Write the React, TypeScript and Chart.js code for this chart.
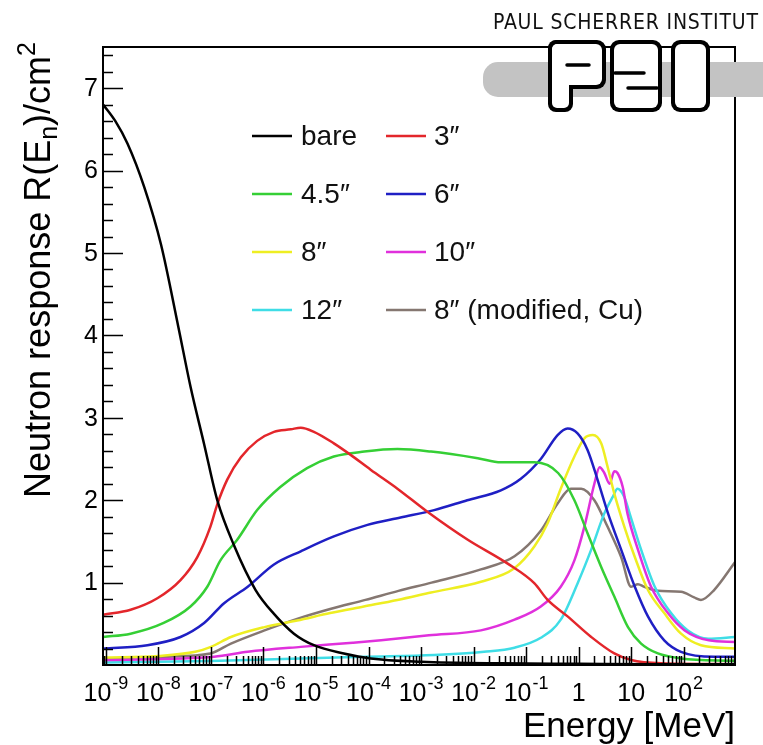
import React, { useEffect, useRef } from "react";
import { Chart, registerables } from "chart.js";

Chart.register(...registerables);

// ---------- data (x = log10(E / MeV), y = R(E_n) in cm^2) ----------
const seriesLabels = ["bare", "3″", "4.5″", "6″", "8″", "10″", "12″", "8″ (modified, Cu)"];
const seriesColors = ["#000000", "#e3262b", "#35cf35", "#1f1fc4", "#eeee22", "#e030dc", "#3fdde6", "#857771"];

const bareLogE = [-9.05, -8.82, -8.59, -8.27, -7.95, -7.62, -7.39, -7.13, -6.88, -6.56, -6.15, -5.80, -5.42, -5.04, -4.47, -3.96, -3.0, -1.5, 0.0, 1.5, 2.98];
const bareR = [6.80, 6.60, 6.33, 5.80, 5.10, 4.10, 3.38, 2.68, 2.00, 1.45, 0.91, 0.62, 0.38, 0.24, 0.14, 0.08, 0.04, 0.02, 0.015, 0.01, 0.01];

const r3LogE = [-9.05, -8.53, -8.02, -7.58, -7.26, -7.01, -6.88, -6.69, -6.43, -6.12, -5.80, -5.48, -5.29, -5.04, -4.66, -4.34, -3.96, -3.45, -2.88, -2.11, -1.35, -0.84, -0.59, -0.21, 0.24, 0.68, 1.0, 1.57, 2.98];
const r3R = [0.61, 0.67, 0.81, 1.03, 1.31, 1.68, 1.95, 2.25, 2.52, 2.72, 2.83, 2.86, 2.88, 2.83, 2.69, 2.55, 2.37, 2.14, 1.86, 1.52, 1.23, 0.99, 0.79, 0.59, 0.34, 0.14, 0.06, 0.02, 0.01];

const r45LogE = [-9.05, -8.53, -7.90, -7.39, -7.07, -6.82, -6.50, -6.12, -5.68, -5.17, -4.66, -4.08, -3.45, -2.81, -1.92, -1.48, -0.84, -0.39, -0.08, 0.17, 0.43, 0.68, 0.94, 1.19, 1.51, 1.95, 2.98];
const r45R = [0.34, 0.38, 0.51, 0.71, 0.95, 1.27, 1.52, 1.88, 2.16, 2.39, 2.53, 2.59, 2.62, 2.59, 2.51, 2.46, 2.46, 2.33, 2.00, 1.60, 1.19, 0.83, 0.46, 0.26, 0.14, 0.08, 0.05];

const r6LogE = [-9.05, -8.21, -7.58, -7.13, -6.75, -6.30, -5.80, -5.29, -4.66, -4.02, -3.39, -2.75, -2.12, -1.48, -1.10, -0.72, -0.40, -0.21, -0.02, 0.17, 0.36, 0.56, 0.81, 1.07, 1.32, 1.63, 1.95, 2.58, 2.98];
const r6R = [0.20, 0.24, 0.34, 0.51, 0.75, 0.95, 1.22, 1.38, 1.56, 1.70, 1.79, 1.88, 2.00, 2.12, 2.26, 2.50, 2.79, 2.87, 2.81, 2.61, 2.25, 1.84, 1.40, 0.95, 0.59, 0.30, 0.16, 0.10, 0.10];

const r8LogE = [-9.05, -8.0, -7.3, -7.0, -6.62, -5.98, -5.36, -4.73, -4.09, -3.45, -2.81, -1.86, -1.23, -0.84, -0.59, -0.34, -0.08, 0.11, 0.27, 0.43, 0.55, 0.68, 0.87, 1.07, 1.32, 1.63, 1.95, 2.33, 2.98];
const r8R = [0.09, 0.11, 0.16, 0.22, 0.34, 0.46, 0.54, 0.63, 0.71, 0.79, 0.88, 1.01, 1.17, 1.44, 1.72, 2.14, 2.53, 2.75, 2.79, 2.69, 2.41, 2.08, 1.68, 1.31, 0.91, 0.63, 0.38, 0.24, 0.20];

const r10LogE = [-9.05, -6.94, -6.30, -5.29, -4.30, -3.76, -2.85, -1.86, -1.22, -0.72, -0.34, -0.08, 0.11, 0.30, 0.40, 0.49, 0.59, 0.68, 0.74, 0.84, 0.93, 1.13, 1.38, 1.70, 2.02, 2.48, 2.98];
const r10R = [0.06, 0.10, 0.16, 0.22, 0.27, 0.30, 0.36, 0.42, 0.55, 0.71, 0.95, 1.27, 1.68, 2.20, 2.40, 2.33, 2.20, 2.35, 2.33, 2.16, 1.84, 1.40, 0.95, 0.63, 0.42, 0.30, 0.28];

const r12LogE = [-9.05, -7.0, -5.29, -4.02, -2.75, -1.80, -1.22, -0.72, -0.34, -0.02, 0.24, 0.49, 0.65, 0.74, 0.87, 0.99, 1.19, 1.45, 1.76, 2.08, 2.47, 2.98];
const r12R = [0.03, 0.05, 0.08, 0.10, 0.12, 0.16, 0.21, 0.33, 0.55, 0.99, 1.40, 1.84, 2.04, 2.14, 2.04, 1.80, 1.40, 0.95, 0.63, 0.42, 0.32, 0.34];

const rCuLogE = [-9.05, -7.90, -7.01, -6.62, -5.98, -5.36, -4.73, -4.06, -3.43, -2.80, -1.86, -1.22, -0.72, -0.40, -0.15, 0.05, 0.30, 0.55, 0.81, 1.0, 1.13, 1.25, 1.51, 1.95, 2.20, 2.33, 2.58, 2.98];
const rCuR = [0.08, 0.10, 0.14, 0.26, 0.42, 0.56, 0.68, 0.79, 0.90, 1.00, 1.16, 1.32, 1.63, 1.96, 2.14, 2.14, 2.00, 1.68, 1.31, 0.95, 0.98, 0.95, 0.90, 0.89, 0.82, 0.79, 0.91, 1.25];

const seriesLogE = [bareLogE, r3LogE, r45LogE, r6LogE, r8LogE, r10LogE, r12LogE, rCuLogE];
const seriesR = [bareR, r3R, r45R, r6R, r8R, r10R, r12R, rCuR];

const xTickExponents = [-9, -8, -7, -6, -5, -4, -3, -2, -1, 0, 1, 2];
const yTickLabels = [1, 2, 3, 4, 5, 6, 7];
const X_MIN = 8.8e-10;
const X_MAX = 950;
const Y_MIN = 0;
const Y_MAX = 7.5;

const FONT = "'Liberation Sans', Arial, Helvetica, sans-serif";

const rootStyle = {
  id: "rootStyle",
  afterDatasetsDraw(chart: any) {
    const { ctx, chartArea: a, scales } = chart;
    const xs = scales.x;
    const ys = scales.y;
    ctx.save();
    ctx.strokeStyle = "#000";
    ctx.fillStyle = "#000";

    // ticks (inward, ROOT style)
    ctx.lineWidth = 1.5;
    ctx.beginPath();
    for (let e = -10; e <= 3; e++) {
      for (let m = 1; m <= 9; m++) {
        const v = m * Math.pow(10, e);
        if (v < X_MIN || v > X_MAX) continue;
        const px = Math.round(xs.getPixelForValue(v)) + 0.5;
        const len = m === 1 ? 18 : 9;
        ctx.moveTo(px, a.bottom);
        ctx.lineTo(px, a.bottom - len);
      }
    }
    for (let i = 1; i <= 37; i++) {
      const v = i / 5;
      if (v >= Y_MAX) continue;
      const py = Math.round(ys.getPixelForValue(v)) + 0.5;
      const len = i % 5 === 0 ? 20 : 10;
      ctx.moveTo(a.left, py);
      ctx.lineTo(a.left + len, py);
    }
    ctx.stroke();

    // frame
    ctx.lineWidth = 2;
    ctx.strokeRect(a.left, a.top, a.right - a.left, a.bottom - a.top);

    // x tick labels
    ctx.textBaseline = "alphabetic";
    ctx.textAlign = "left";
    for (const e of xTickExponents) {
      const px = xs.getPixelForValue(Math.pow(10, e));
      const base = e === 0 ? "1" : "10";
      const sup = e === 0 || e === 1 ? "" : String(e);
      ctx.font = `25px ${FONT}`;
      const bw = ctx.measureText(base).width;
      ctx.font = `18px ${FONT}`;
      const sw = sup ? ctx.measureText(sup).width + 1 : 0;
      const start = px - (bw + sw) / 2;
      ctx.font = `25px ${FONT}`;
      ctx.fillText(base, start, 701);
      if (sup) {
        ctx.font = `18px ${FONT}`;
        ctx.fillText(sup, start + bw + 1, 689);
      }
    }

    // y tick labels
    ctx.font = `25px ${FONT}`;
    ctx.textAlign = "right";
    ctx.textBaseline = "middle";
    for (const v of yTickLabels) {
      ctx.fillText(String(v), 98, ys.getPixelForValue(v) + 1);
    }

    // x title
    ctx.font = `35px ${FONT}`;
    ctx.textAlign = "right";
    ctx.textBaseline = "alphabetic";
    ctx.fillText("Energy [MeV]", a.right, 737);

    // y title (rotated, top-aligned)
    ctx.save();
    ctx.translate(50, 42);
    ctx.rotate(-Math.PI / 2);
    ctx.textAlign = "left";
    const parts: [string, number, number][] = [
      ["Neutron response R(E", 36, 0],
      ["n", 25, 7],
      [")/cm", 36, 0],
      ["2", 25, -15],
    ];
    let total = 0;
    for (const [t, s] of parts) {
      ctx.font = `${s}px ${FONT}`;
      total += ctx.measureText(t).width;
    }
    let cx = -total;
    for (const [t, s, dy] of parts) {
      ctx.font = `${s}px ${FONT}`;
      ctx.fillText(t, cx, dy);
      cx += ctx.measureText(t).width;
    }
    ctx.restore();

    // legend (2 columns, 4 rows, no box)
    const colLine = [252, 386];
    const colText = [301, 434];
    const rows = [136, 194, 252, 310];
    ctx.font = `28px ${FONT}`;
    ctx.textAlign = "left";
    ctx.textBaseline = "middle";
    chart.data.datasets.forEach((ds: any, i: number) => {
      const col = i % 2;
      const row = Math.floor(i / 2);
      const y = rows[row];
      ctx.strokeStyle = ds.borderColor;
      ctx.lineWidth = 2.5;
      ctx.beginPath();
      ctx.moveTo(colLine[col], y);
      ctx.lineTo(colLine[col] + 40, y);
      ctx.stroke();
      ctx.fillStyle = "#111";
      ctx.fillText(ds.label, colText[col], y + 1);
    });

    ctx.restore();
  },
};

export default function App() {
  const ref = useRef<HTMLCanvasElement>(null);

  useEffect(() => {
    const datasets = seriesLabels.map((label, i) => ({
      label,
      data: seriesLogE[i].map((l, j) => ({ x: Math.pow(10, l), y: seriesR[i][j] })),
      borderColor: seriesColors[i],
      backgroundColor: seriesColors[i],
      borderWidth: 2.5,
      pointRadius: 0,
      fill: false,
      cubicInterpolationMode: "monotone" as const,
    }));
    const chart = new Chart(ref.current as HTMLCanvasElement, {
      type: "line",
      data: { datasets },
      options: {
        responsive: false,
        devicePixelRatio: 1,
        animation: false,
        layout: { padding: { left: 103, right: 28, top: 47, bottom: 80 } },
        plugins: { legend: { display: false }, tooltip: { enabled: false } },
        scales: {
          x: { type: "logarithmic", min: X_MIN, max: X_MAX, display: false },
          y: { type: "linear", min: Y_MIN, max: Y_MAX, display: false },
        },
      },
      plugins: [rootStyle],
    });
    return () => chart.destroy();
  }, []);

  return (
    <div style={{ position: "absolute", left: 0, top: 0, width: 763, height: 745, background: "#fff", overflow: "hidden" }}>
      <canvas ref={ref} width={763} height={745} style={{ position: "absolute", left: 0, top: 0, width: 763, height: 745 }} />
      <svg width={763} height={745} style={{ position: "absolute", left: 0, top: 0, pointerEvents: "none" }}>
        <text
          x={493}
          y={29}
          fontFamily="'Liberation Sans Narrow', 'DejaVu Sans Condensed', 'Arial Narrow', sans-serif"
          fontSize={21}
          textLength={265}
          lengthAdjust="spacing"
          fill="#111"
        >
          PAUL SCHERRER INSTITUT
        </text>
        <rect x={483} y={62} width={300} height={35} rx={15} fill="#c3c3c3" />
        <g fill="#000">
          <rect x={548} y={40} width={58} height={49} rx={9} />
          <rect x={548} y={40} width={25} height={72} rx={8} />
          <rect x={610} y={40} width={52} height={72} rx={9} />
          <rect x={671} y={40} width={39} height={72} rx={9} />
        </g>
        <g fill="#fff">
          <rect x={552} y={44} width={50} height={41} rx={6} />
          <rect x={552} y={44} width={17} height={64} rx={5} />
          <rect x={614} y={44} width={44} height={64} rx={6} />
          <rect x={675} y={44} width={31} height={64} rx={6} />
        </g>
        <g stroke="#000" strokeWidth={3.5} strokeLinecap="round">
          <line x1={567} y1={65} x2={589} y2={65} />
          <line x1={615} y1={73} x2={644} y2={73} />
          <line x1={628} y1={88} x2={657} y2={88} />
        </g>
      </svg>
    </div>
  );
}
